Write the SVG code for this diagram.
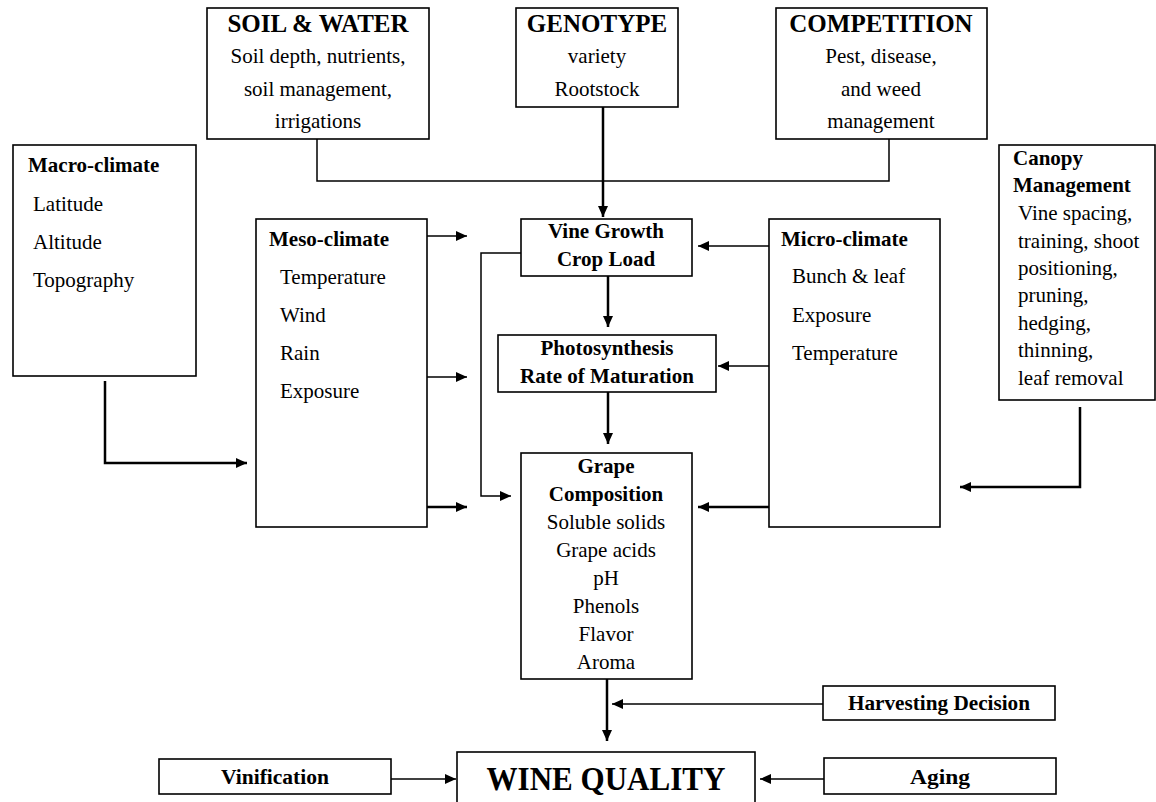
<svg xmlns="http://www.w3.org/2000/svg" width="1156" height="802" viewBox="0 0 1156 802">
<style>
.box{fill:#fff;stroke:#000;stroke-width:1.6}
text{font-family:"Liberation Serif","Times New Roman",serif;fill:#000;font-size:21px}
.t{font-weight:bold;font-size:25px}
.b{font-weight:bold;font-size:21px}
.s{font-weight:bold;font-size:20px}
.c{text-anchor:middle}
.thin{fill:none;stroke:#000;stroke-width:1.5}
.thick{fill:none;stroke:#000;stroke-width:2.5}
</style>
<defs>
<marker id="ah" markerUnits="userSpaceOnUse" markerWidth="12" markerHeight="10" refX="11" refY="5" orient="auto">
<path d="M0,0 L11,5 L0,10 Z" fill="#000"/>
</marker>
</defs>
<rect width="1156" height="802" fill="#fff"/>
<g id="connectors">
<polyline class="thin" points="317,139 317,181 889,181 889,139"/>
<line class="thick" x1="603" y1="107" x2="603" y2="217" marker-end="url(#ah)"/>
<polyline class="thick" points="105,381 105,463 247,463" marker-end="url(#ah)"/>
<line class="thin" x1="427" y1="236" x2="467" y2="236" marker-end="url(#ah)"/>
<line class="thin" x1="427" y1="377" x2="467" y2="377" marker-end="url(#ah)"/>
<line class="thick" x1="427" y1="507" x2="467" y2="507" marker-end="url(#ah)"/>
<polyline class="thin" points="521,253 481,253 481,496 511,496" marker-end="url(#ah)"/>
<line class="thick" x1="608" y1="276" x2="608" y2="327" marker-end="url(#ah)"/>
<line class="thick" x1="608" y1="392" x2="608" y2="444" marker-end="url(#ah)"/>
<line class="thin" x1="769" y1="246" x2="698" y2="246" marker-end="url(#ah)"/>
<line class="thin" x1="769" y1="366" x2="718" y2="366" marker-end="url(#ah)"/>
<line class="thick" x1="769" y1="507" x2="698" y2="507" marker-end="url(#ah)"/>
<polyline class="thick" points="1080,407 1080,487 960,487" marker-end="url(#ah)"/>
<line class="thick" x1="607" y1="679" x2="607" y2="741" marker-end="url(#ah)"/>
<line class="thin" x1="823" y1="704" x2="612" y2="704" marker-end="url(#ah)"/>
<line class="thin" x1="391" y1="779" x2="456" y2="779" marker-end="url(#ah)"/>
<line class="thin" x1="824" y1="779" x2="760" y2="779" marker-end="url(#ah)"/>
</g>
<g id="soil">
<rect class="box" x="207" y="8" width="222" height="131"/>
<text class="t c" x="318" y="32">SOIL &amp; WATER</text>
<text class="c" x="318" y="63">Soil depth, nutrients,</text>
<text class="c" x="318" y="96">soil management,</text>
<text class="c" x="318" y="128">irrigations</text>
</g>
<g id="genotype">
<rect class="box" x="516" y="8" width="162" height="99"/>
<text class="t c" x="597" y="32">GENOTYPE</text>
<text class="c" x="597" y="63">variety</text>
<text class="c" x="597" y="96">Rootstock</text>
</g>
<g id="competition">
<rect class="box" x="776" y="8" width="211" height="131"/>
<text class="t c" x="881" y="32">COMPETITION</text>
<text class="c" x="881" y="63">Pest, disease,</text>
<text class="c" x="881" y="96">and weed</text>
<text class="c" x="881" y="128">management</text>
</g>
<g id="macro">
<rect class="box" x="13" y="145" width="183" height="231"/>
<text class="b" x="28" y="172">Macro-climate</text>
<text x="33" y="211">Latitude</text>
<text x="33" y="249">Altitude</text>
<text x="33" y="287">Topography</text>
</g>
<g id="meso">
<rect class="box" x="256" y="219" width="171" height="308"/>
<text class="b" x="269" y="246">Meso-climate</text>
<text x="280" y="284">Temperature</text>
<text x="280" y="322">Wind</text>
<text x="280" y="360">Rain</text>
<text x="280" y="398">Exposure</text>
</g>
<g id="vine">
<rect class="box" x="521" y="219" width="171" height="57"/>
<text class="b c" x="606" y="238">Vine Growth</text>
<text class="b c" x="606" y="266">Crop Load</text>
</g>
<g id="photo">
<rect class="box" x="498" y="335" width="218" height="57"/>
<text class="b c" x="607" y="355">Photosynthesis</text>
<text class="b c" x="607" y="383">Rate of Maturation</text>
</g>
<g id="grape">
<rect class="box" x="521" y="453" width="171" height="226"/>
<text class="b c" x="606" y="473">Grape</text>
<text class="b c" x="606" y="501">Composition</text>
<text class="c" x="606" y="529">Soluble solids</text>
<text class="c" x="606" y="557">Grape acids</text>
<text class="c" x="606" y="585">pH</text>
<text class="c" x="606" y="613">Phenols</text>
<text class="c" x="606" y="641">Flavor</text>
<text class="c" x="606" y="669">Aroma</text>
</g>
<g id="micro">
<rect class="box" x="769" y="219" width="171" height="308"/>
<text class="b" x="781" y="246">Micro-climate</text>
<text x="792" y="283">Bunch &amp; leaf</text>
<text x="792" y="322">Exposure</text>
<text x="792" y="360">Temperature</text>
</g>
<g id="canopy">
<rect class="box" x="999" y="145" width="156" height="255"/>
<text class="b" x="1013" y="165">Canopy</text>
<text class="b" x="1013" y="192">Management</text>
<text x="1018" y="220">Vine spacing,</text>
<text x="1018" y="248">training, shoot</text>
<text x="1018" y="275">positioning,</text>
<text x="1018" y="302">pruning,</text>
<text x="1018" y="330">hedging,</text>
<text x="1018" y="357">thinning,</text>
<text x="1018" y="385">leaf removal</text>
</g>
<g id="harvest">
<rect class="box" x="823" y="686" width="232" height="34"/>
<text class="s c" x="939" y="710" textLength="182" lengthAdjust="spacingAndGlyphs">Harvesting Decision</text>
</g>
<g id="vinification">
<rect class="box" x="159" y="759" width="232" height="35"/>
<text class="s c" x="275" y="784" textLength="108" lengthAdjust="spacingAndGlyphs">Vinification</text>
</g>
<g id="winequality">
<rect class="box" x="457" y="752" width="298" height="60"/>
<text class="c" x="606" y="790" style="font-weight:bold;font-size:34px" textLength="239" lengthAdjust="spacingAndGlyphs">WINE QUALITY</text>
</g>
<g id="aging">
<rect class="box" x="824" y="758" width="232" height="36"/>
<text class="s c" x="940" y="784" textLength="60" lengthAdjust="spacingAndGlyphs">Aging</text>
</g>
</svg>
